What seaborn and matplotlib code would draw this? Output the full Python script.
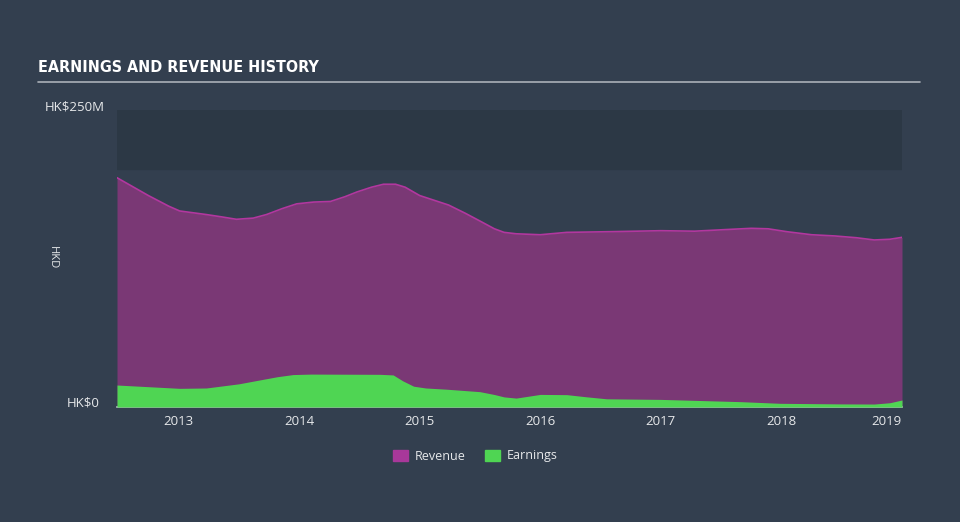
import matplotlib
matplotlib.use("Agg")
import matplotlib.pyplot as plt
import pandas as pd
import numpy as np
import seaborn as sns

# Revenue history (HK$ millions)
rev_years = [2012.49, 2012.75, 2012.92, 2013.01, 2013.23, 2013.36, 2013.48, 2013.62,
             2013.73, 2013.86, 2013.98, 2014.12, 2014.26, 2014.38, 2014.48, 2014.60,
             2014.70, 2014.80, 2014.88, 2015.0, 2015.24, 2015.38, 2015.51, 2015.62,
             2015.70, 2015.80, 2016.0, 2016.22, 2016.6, 2017.0, 2017.28, 2017.55,
             2017.75, 2017.89, 2018.05, 2018.25, 2018.44, 2018.62, 2018.77, 2018.9,
             2019.0]
rev_vals = [193, 178, 169, 165, 162, 160, 158, 159, 162, 167, 171, 172.5, 173, 177,
            181, 185, 187.5, 187.5, 185, 178, 170, 163, 156, 150, 147, 145.8, 145,
            147, 147.6, 148.4, 148, 149.4, 150.4, 150, 147.5, 145, 144, 142.5, 140.6,
            141.2, 142.8]

# Earnings history (HK$ millions)
earn_years = [2012.49, 2013.01, 2013.23, 2013.50, 2013.67, 2013.82, 2013.95, 2014.10,
              2014.67, 2014.78, 2014.86, 2014.95, 2015.05, 2015.22, 2015.50, 2015.62,
              2015.70, 2015.80, 2016.0, 2016.22, 2016.38, 2016.55, 2017.0, 2017.66,
              2017.99, 2018.5, 2018.77, 2018.9, 2019.0]
earn_vals = [18.5, 15.7, 16, 19.5, 22.7, 25.5, 27.3, 27.7, 27.5, 27, 22, 17.5, 16,
             15, 12.9, 10.5, 8.5, 7.5, 10.6, 10.4, 8.6, 6.9, 6.4, 4.5, 3.1, 2.6,
             2.5, 3.6, 5.9]

year_ticks = [2013, 2014, 2015, 2016, 2017, 2018, 2019]

bg = "#333f4f"
rev_fill = "#7a3875"
rev_line = "#b2379f"
earn_col = "#4fd553"
text_col = "#e6e8ea"

sns.set_style("dark", {"axes.facecolor": bg, "figure.facecolor": bg})
plt.rcParams["font.family"] = ["Open Sans", "DejaVu Sans"]

rev = pd.DataFrame({"year": rev_years, "value": rev_vals})
earn = pd.DataFrame({"year": earn_years, "value": earn_vals})

fig = plt.figure(figsize=(9.6, 5.22), dpi=100)
ax = fig.add_axes([117/960, 1-407/522, 785/960, 297/522])

ax.axhspan(200, 250, color="#2c3845", zorder=0)

ax.fill_between(rev["year"], rev["value"], color=rev_fill, zorder=1, lw=0)
sns.lineplot(data=rev, x="year", y="value", color=rev_line, lw=1.2, ax=ax, zorder=2)
ax.fill_between(earn["year"], earn["value"], color=earn_col, zorder=3, lw=0)

ax.set_xlim(2012.49, 2019.0)
ax.set_ylim(0, 250)
ax.set_xticks(year_ticks)
labels = ax.set_xticklabels([str(y) for y in year_ticks], color=text_col, fontsize=9.5)
labels[-1].set_horizontalalignment("right")
ax.set_yticks([])
ax.set_xlabel("")
ax.set_ylabel("")
ax.tick_params(axis="x", length=5, color="#8c96a3", pad=3, direction="inout")
for s in ["top", "right", "left"]:
    ax.spines[s].set_visible(False)
ax.spines["bottom"].set_color("#b8bec6")
ax.spines["bottom"].set_linewidth(1.2)
ax.grid(False)

fig.text(45/960, 1-107/522, "HK$250M", color=text_col, fontsize=9.5, va="center")
fig.text(100/960, 1-403/522, "HK$0", color=text_col, fontsize=9.5, va="center", ha="right")
fig.text(52/960, 1-258/522, "HKD", color=text_col, fontsize=8, rotation=270,
         va="center", ha="center")

fig.text(38/960, 1-68/522, "EARNINGS AND REVENUE HISTORY", color="white",
         fontsize=11.5, fontweight="bold", va="center", fontstretch="condensed",
         family=["DejaVu Sans"])
fig.add_artist(plt.Line2D([38/960, 920/960], [1-82/522, 1-82/522], color="#aab0b8", lw=1.2))

handles = [plt.Rectangle((0, 0), 1, 1, color="#a8389a"),
           plt.Rectangle((0, 0), 1, 1, color=earn_col)]
fig.legend(handles, ["Revenue", "Earnings"], loc="center", bbox_to_anchor=(0.495, 1-456/522),
           ncol=2, frameon=False, fontsize=9, labelcolor=text_col,
           handlelength=1.2, handleheight=1.0, columnspacing=1.6, handletextpad=0.5)

fig.savefig("out.png", dpi=100, facecolor=bg)
